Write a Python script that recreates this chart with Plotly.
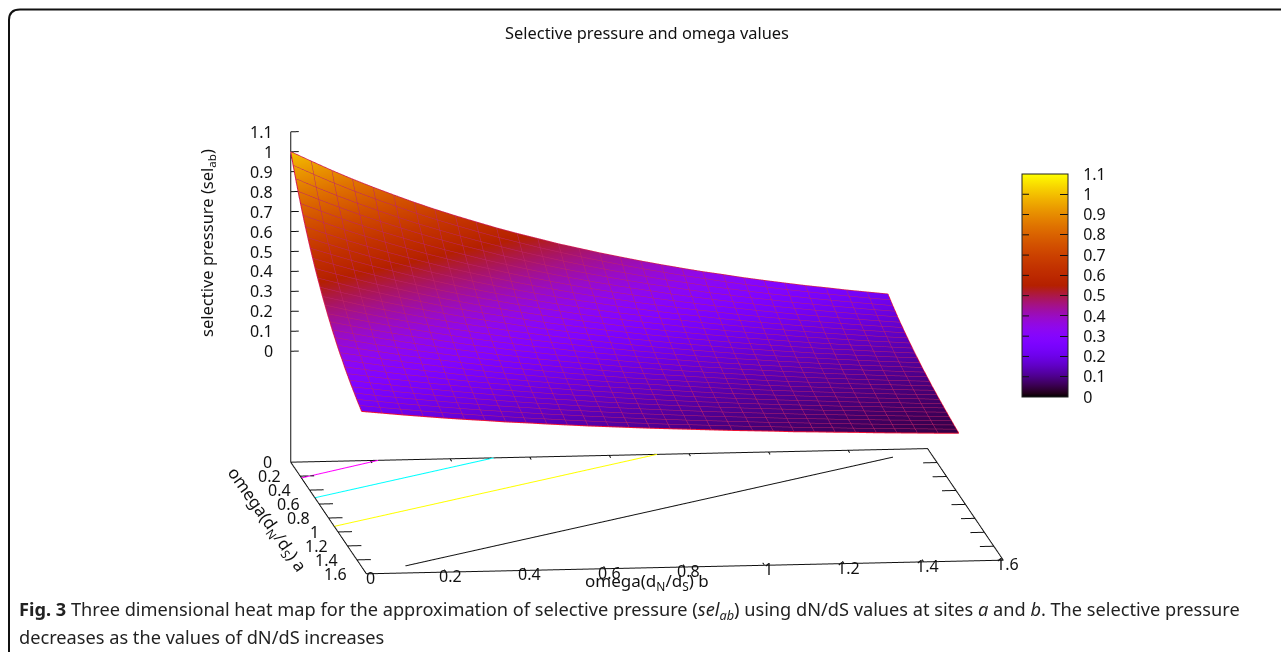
import math
import plotly.graph_objects as go

W, H = 1281, 652

# grid positions along each dN/dS axis
omega_a = [0.0, 0.052, 0.103, 0.155, 0.207, 0.259, 0.31, 0.362, 0.414, 0.466, 0.517, 0.569, 0.621, 0.672, 0.724,
           0.776, 0.828, 0.879, 0.931, 0.983, 1.034, 1.086, 1.138, 1.19, 1.241, 1.293, 1.345, 1.397, 1.448, 1.5]
omega_b = list(omega_a)
# selective pressure read along the surface, indexed by (row + column) of the grid
sel_ab_by_step = [1.0, 0.95, 0.902, 0.856, 0.813, 0.772, 0.733, 0.696, 0.661, 0.628, 0.596, 0.566, 0.538, 0.51, 0.485,
                  0.46, 0.437, 0.415, 0.394, 0.374, 0.355, 0.338, 0.32, 0.304, 0.289, 0.274, 0.261, 0.247, 0.235, 0.223,
                  0.212, 0.201, 0.191, 0.181, 0.172, 0.164, 0.155, 0.148, 0.14, 0.133, 0.126, 0.12, 0.114, 0.108, 0.103,
                  0.098, 0.093, 0.088, 0.084, 0.08, 0.075, 0.072, 0.068, 0.065, 0.061, 0.058, 0.055, 0.052, 0.05]
sel_ab = [[sel_ab_by_step[i + j] for j in range(len(omega_b))] for i in range(len(omega_a))]

# contour lines on the base plane: [a start, a end], [b start, b end]
contour_magenta_a, contour_magenta_b = [0.226, 0.0], [0.0, 0.22]
contour_cyan_a, contour_cyan_b = [0.51, 0.0], [0.0, 0.51]
contour_yellow_a, contour_yellow_b = [0.92, 0.0], [0.0, 0.92]
contour_black_a, contour_black_b = [1.5, 0.11], [0.11, 1.5]

omega_ticks = [0, 0.2, 0.4, 0.6, 0.8, 1, 1.2, 1.4, 1.6]
omega_labels = ["0", "0.2", "0.4", "0.6", "0.8", "1", "1.2", "1.4", "1.6"]
sel_ticks = [0, 0.1, 0.2, 0.3, 0.4, 0.5, 0.6, 0.7, 0.8, 0.9, 1, 1.1]
sel_labels = ["0", "0.1", "0.2", "0.3", "0.4", "0.5", "0.6", "0.7", "0.8", "0.9", "1", "1.1"]

Z_BASE = -0.556
Z_TOP = 1.1
OMEGA_MAX = 1.6
PAD = 0.03  # the scene extends a little past the drawn box so its lines are not clipped
LABEL_FONT = dict(family="Noto Sans", size=16, color="#111")

def palette(x):
    r = math.sqrt(x)
    g = x ** 3
    b = max(math.sin(2 * math.pi * x), 0)
    return f"rgb({round(255*r)},{round(255*g)},{round(255*b)})"

colorscale = [[i / 64, palette(i / 64)] for i in range(65)]

fig = go.Figure()

fig.add_trace(go.Surface(
    x=omega_a, y=omega_b, z=[[sel_ab[i][j] for i in range(len(omega_a))] for j in range(len(omega_b))],
    cmin=0, cmax=1.1, colorscale=colorscale,
    lighting=dict(ambient=1, diffuse=0, specular=0, roughness=1, fresnel=0),
    contours=dict(
        x=dict(show=True, start=0, end=1.5, size=1.5 / 29, color="rgb(190,35,105)", width=1),
        y=dict(show=True, start=0, end=1.5, size=1.5 / 29, color="rgb(190,35,105)", width=1),
    ),
    hoverinfo="skip",
    colorbar=dict(
        x=1022 / W, xanchor="left", xpad=0,
        y=1 - 397 / H, yanchor="bottom", ypad=0,
        len=223, lenmode="pixels", thickness=46, thicknessmode="pixels",
        outlinecolor="#222", outlinewidth=1,
        tickmode="array", tickvals=sel_ticks, ticktext=["\u00a0\u00a0\u2006" + t for t in sel_labels],
        ticks="inside", ticklen=8, tickcolor="#111", tickfont=LABEL_FONT,
    ),
))

def line3d(xs, ys, zs, color="#111", width=2):
    fig.add_trace(go.Scatter3d(x=xs, y=ys, z=zs, mode="lines", line=dict(color=color, width=width),
                               showlegend=False, hoverinfo="skip"))

# red outline of the surface
last = len(omega_a) - 1
line3d(omega_a, [omega_b[0]] * len(omega_a), [sel_ab[i][0] for i in range(len(omega_a))], "#ee1133")
line3d(omega_a, [omega_b[last]] * len(omega_a), [sel_ab[i][last] for i in range(len(omega_a))], "#ee1133")
line3d([omega_a[0]] * len(omega_b), omega_b, [sel_ab[0][j] for j in range(len(omega_b))], "#ee1133")
line3d([omega_a[last]] * len(omega_b), omega_b, [sel_ab[last][j] for j in range(len(omega_b))], "#ee1133")

# base rectangle
line3d([0, OMEGA_MAX, OMEGA_MAX, 0, 0], [0, 0, OMEGA_MAX, OMEGA_MAX, 0], [Z_BASE] * 5)
# vertical axis
line3d([0, 0], [0, 0], [Z_BASE, Z_TOP])
for t in sel_ticks:
    line3d([0, 0], [0, 0.02], [t, t])
for t in omega_ticks[1:-1]:
    line3d([t, t], [0, 0.035], [Z_BASE] * 2)
    line3d([t, t], [OMEGA_MAX, OMEGA_MAX - 0.035], [Z_BASE] * 2)
    line3d([0, 0.035], [t, t], [Z_BASE] * 2)
    line3d([OMEGA_MAX, OMEGA_MAX - 0.035], [t, t], [Z_BASE] * 2)

line3d(contour_magenta_a, contour_magenta_b, [Z_BASE] * 2, "#ff00ff")
line3d(contour_cyan_a, contour_cyan_b, [Z_BASE] * 2, "#00ffff")
line3d(contour_yellow_a, contour_yellow_b, [Z_BASE] * 2, "#ffff00")
line3d(contour_black_a, contour_black_b, [Z_BASE] * 2, "#111111")

scene_notes = []
for t, s in zip(sel_ticks, sel_labels):
    scene_notes.append(dict(x=0, y=0, z=t, text=s, showarrow=False, xanchor="right", xshift=-16, font=LABEL_FONT))
for t, s in zip(omega_ticks, omega_labels):
    scene_notes.append(dict(x=t, y=0, z=Z_BASE, text=s, showarrow=False, xanchor="right", xshift=-17, font=LABEL_FONT))
    scene_notes.append(dict(x=OMEGA_MAX, y=t, z=Z_BASE, text=s, showarrow=False, xanchor="center", xshift=4, yshift=-4, font=LABEL_FONT))

# projection: orthographic view direction and per-axis stretch
EYE_DIR = (0.9766, -0.1175, 0.1774)
EYE_NORM = 3
SCENE_SCALE = 2.07
PAD_XY = (OMEGA_MAX + 2 * PAD) / OMEGA_MAX
PAD_Z = (Z_TOP - Z_BASE + 2 * PAD) / (Z_TOP - Z_BASE)

CAPTION_FONT = dict(family="Noto Sans", size=18.2, color="#222")

def paper_note(text, x, y, font, xanchor="center", **kw):
    return dict(text=text, xref="paper", yref="paper", x=x / W, y=1 - y / H, xanchor=xanchor, yanchor="middle",
                showarrow=False, font=font, **kw)

# left-hand ticks of the colour bar
bar_ticks = [dict(text="", xref="paper", yref="paper", x=1022.5 / W, y=1 - (397 - 223 * t / 1.1) / H,
                  showarrow=True, arrowhead=0, arrowwidth=1, arrowcolor="#111", ax=8, ay=0, standoff=0)
             for t in sel_ticks[1:-1]]

fig.update_layout(
    width=W, height=H, autosize=False,
    margin=dict(l=0, r=0, t=0, b=0),
    paper_bgcolor="white",
    showlegend=False,
    title=dict(text="Selective pressure and omega values", x=647 / W, xanchor="center", y=1 - 33 / H, yanchor="middle",
               font=dict(family="Noto Sans", size=16.4, color="#111")),
    scene=dict(
        domain=dict(x=[13 / W, 1], y=[0, 612 / H]),
        aspectmode="manual",
        aspectratio=dict(x=SCENE_SCALE * PAD_XY, y=1.0127 * SCENE_SCALE * PAD_XY, z=0.53 * SCENE_SCALE * PAD_Z),
        camera=dict(projection=dict(type="orthographic"), up=dict(x=0, y=0, z=1), center=dict(x=0, y=0, z=0),
                    eye=dict(x=EYE_DIR[0] * EYE_NORM, y=EYE_DIR[1] * EYE_NORM, z=EYE_DIR[2] * EYE_NORM)),
        xaxis=dict(visible=False, range=[-PAD, OMEGA_MAX + PAD]),
        yaxis=dict(visible=False, range=[-PAD, OMEGA_MAX + PAD]),
        zaxis=dict(visible=False, range=[Z_BASE - PAD, Z_TOP + PAD]),
        annotations=scene_notes,
    ),
    annotations=[
        paper_note("selective pressure (sel<sub>ab</sub>)", 207, 243, dict(family="Noto Sans", size=16.5, color="#111"), textangle=-90),
        paper_note("omega(d<sub>N</sub>/d<sub>S</sub>) a", 267, 519, dict(family="Noto Sans", size=17, color="#111"), textangle=55),
        paper_note("omega(d<sub>N</sub>/d<sub>S</sub>) b", 647, 581, dict(family="Noto Sans", size=17, color="#111")),
        paper_note("<b>Fig. 3</b> Three dimensional heat map for the approximation of selective pressure (<i>sel<sub>ab</sub></i>) using dN/dS values at sites <i>a</i> and <i>b</i>. The selective pressure",
                   17, 610, CAPTION_FONT, xanchor="left"),
        paper_note("decreases as the values of dN/dS increases", 17, 637, CAPTION_FONT, xanchor="left"),
    ] + bar_ticks,
    shapes=[dict(type="path", xref="paper", yref="paper", layer="below",
                 path=f"M {9/W},0 L {9/W},{1-20/H} Q {9/W},{1-9.5/H} {20/W},{1-9.5/H} L 1,{1-9.5/H}",
                 line=dict(color="#111", width=2))],
)

fig.write_html("out.html", config={"displayModeBar": False},
               post_script="document.body.style.margin='0';document.body.style.overflow='hidden';")
